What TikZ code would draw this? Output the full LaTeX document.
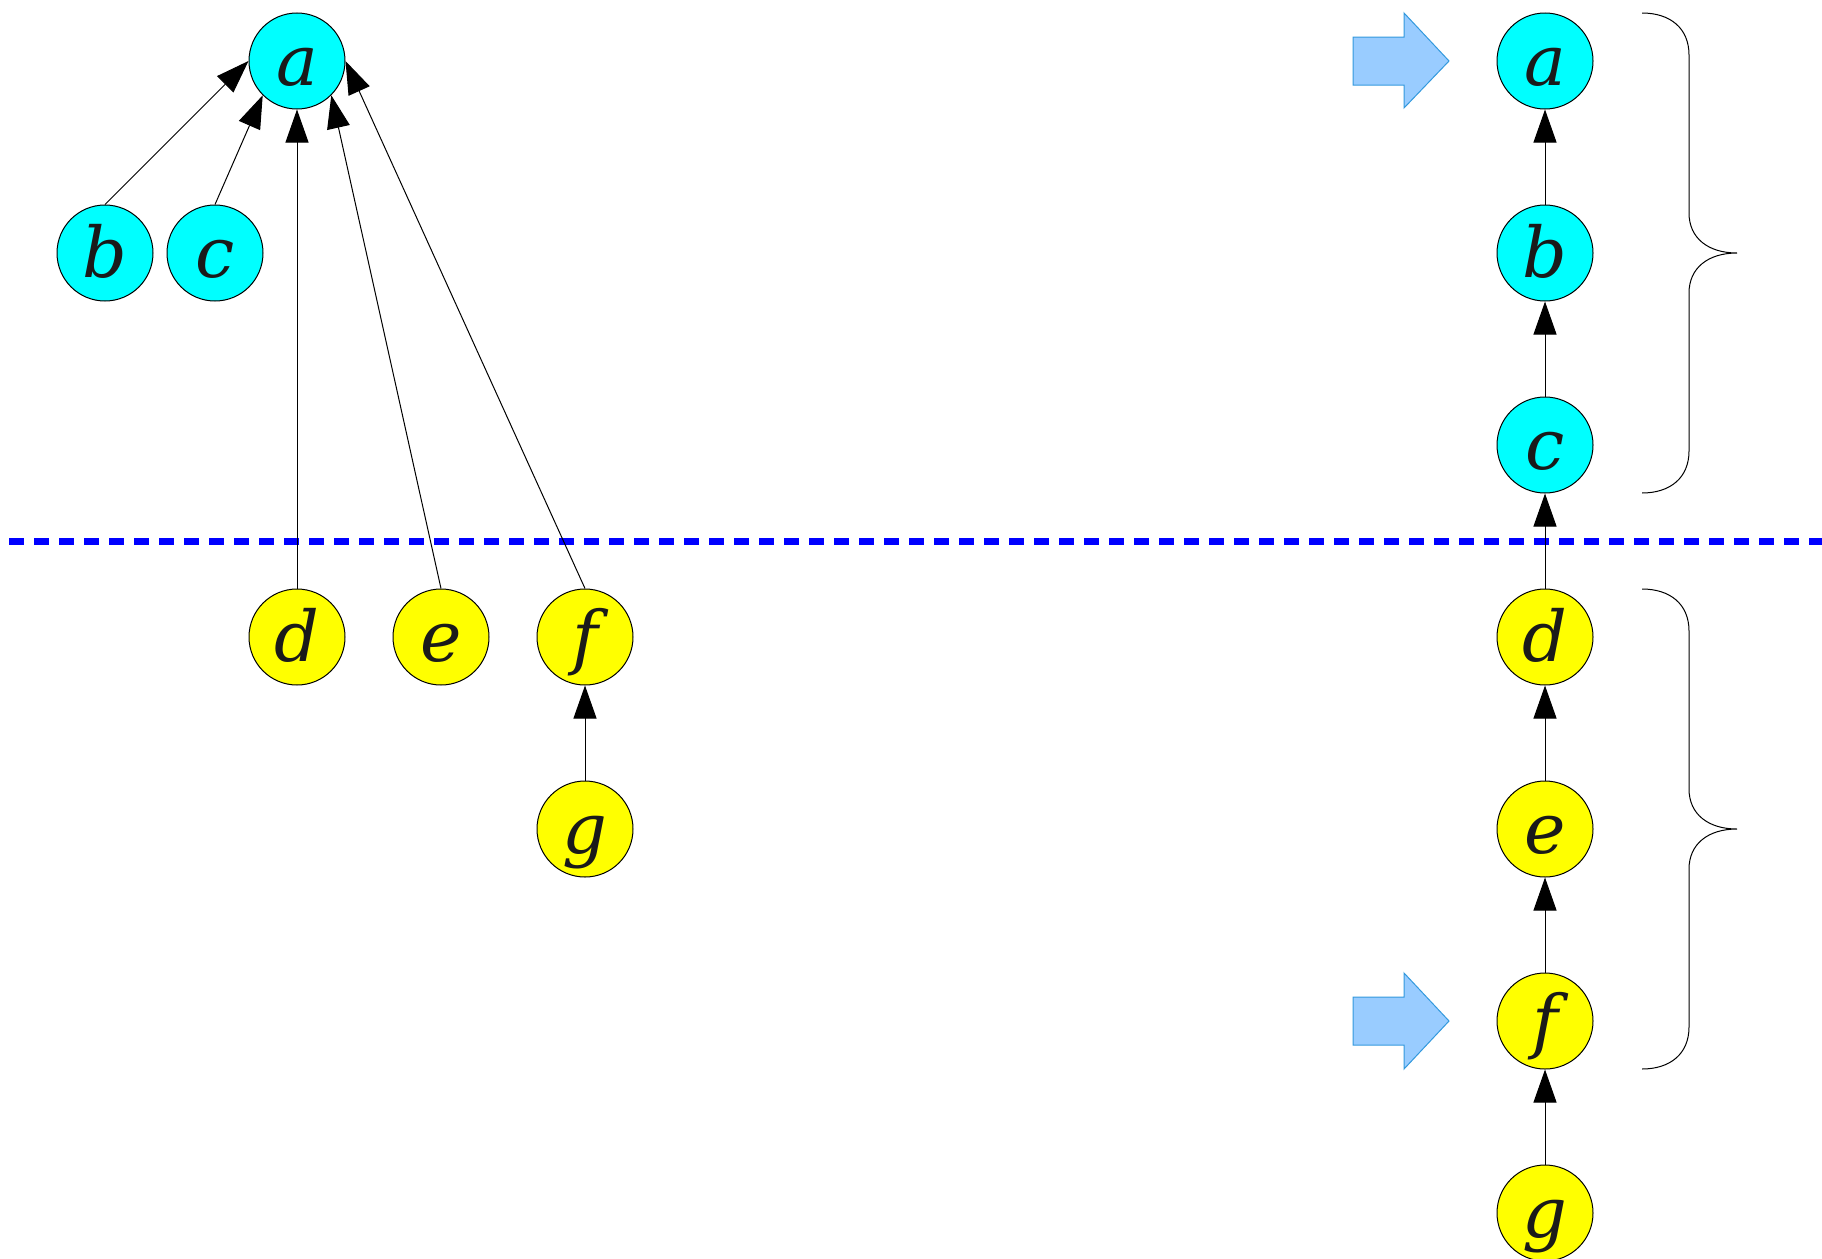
\documentclass[tikz,border=0pt]{standalone}
\usepackage{fontspec}
\setmainfont{DejaVu Serif}
\usetikzlibrary{arrows.meta}
\definecolor{nodecyan}{RGB}{0,255,255}
\definecolor{nodeyellow}{RGB}{255,255,0}
\definecolor{arrowfill}{RGB}{153,204,255}
\definecolor{arrowline}{RGB}{51,153,221}
\definecolor{sepblue}{RGB}{0,0,255}
\definecolor{lettergray}{RGB}{26,26,26}
\begin{document}
\begin{tikzpicture}[x=1pt,y=-1pt,
  vert/.style={circle,draw=black,line width=1pt,minimum size=96pt,inner sep=0pt,
    text height=48pt,text depth=0pt,font=\fontsize{70}{84}\selectfont\itshape,text=lettergray},
  upper/.style={vert,fill=nodecyan},
  lower/.style={vert,fill=nodeyellow},
  edge/.style={line width=1pt,-{Triangle[length=33pt,width=23pt]}},
  sep/.style={sepblue,line width=7pt,dash pattern=on 15pt off 10pt},
  bracepath/.style={line width=1pt},
  pointer/.style={fill=arrowfill,draw=arrowline,line width=1pt,line join=miter}
]
\useasboundingbox (0,0) rectangle (1822,1258);

% separator
\coordinate (sepL) at (9,541);
\coordinate (sepR) at (1822,541);
\draw[sep] (sepL) -- (sepR);

% left graph
\node[upper] (a) at (297,61) {a};
\node[upper] (b) at (105,253) {b};
\node[upper] (c) at (215,253) {c};
\node[lower] (d) at (297,637) {d};
\node[lower] (e) at (441,637) {e};
\node[lower] (f) at (585,637) {f};
\node[lower] (g) at (585,829) {g};

\draw[edge] (b.north) -- (a.west);
\draw[edge] (c.north) -- (a.south west);
\draw[edge] (d.north) -- (a.south);
\draw[edge] (e.north) -- (a.south east);
\draw[edge] (f.north) -- (a.east);
\draw[edge] (g.north) -- (f.south);

% right chain
\node[upper] (ra) at (1545,61) {a};
\node[upper] (rb) at (1545,253) {b};
\node[upper] (rc) at (1545,445) {c};
\node[lower] (rd) at (1545,637) {d};
\node[lower] (re) at (1545,829) {e};
\node[lower] (rf) at (1545,1021) {f};
\node[lower] (rg) at (1545,1213) {g};

\draw[edge] (rb.north) -- (ra.south);
\draw[edge] (rc.north) -- (rb.south);
\draw[edge] (rd.north) -- (rc.south);
\draw[edge] (re.north) -- (rd.south);
\draw[edge] (rf.north) -- (re.south);
\draw[edge] (rg.north) -- (rf.south);

% pointers
\draw[pointer] (1353,37) -- (1404,37) -- (1404,13) -- (1449,61) -- (1404,108) -- (1404,85) -- (1353,85) -- cycle;
\draw[pointer] (1353,997) -- (1404,997) -- (1404,973) -- (1449,1021) -- (1404,1069) -- (1404,1045) -- (1353,1045) -- cycle;

% braces
\draw[bracepath] (1642,13) .. controls (1670,13) and (1689,28) .. (1689,55)
  -- (1689,213) .. controls (1689,238) and (1708,253) .. (1737,253)
  .. controls (1708,253) and (1689,268) .. (1689,293)
  -- (1689,451) .. controls (1689,478) and (1670,493) .. (1642,493);
\draw[bracepath] (1642,589) .. controls (1670,589) and (1689,604) .. (1689,631)
  -- (1689,789) .. controls (1689,814) and (1708,829) .. (1737,829)
  .. controls (1708,829) and (1689,844) .. (1689,869)
  -- (1689,1027) .. controls (1689,1054) and (1670,1069) .. (1642,1069);
\end{tikzpicture}
\end{document}
